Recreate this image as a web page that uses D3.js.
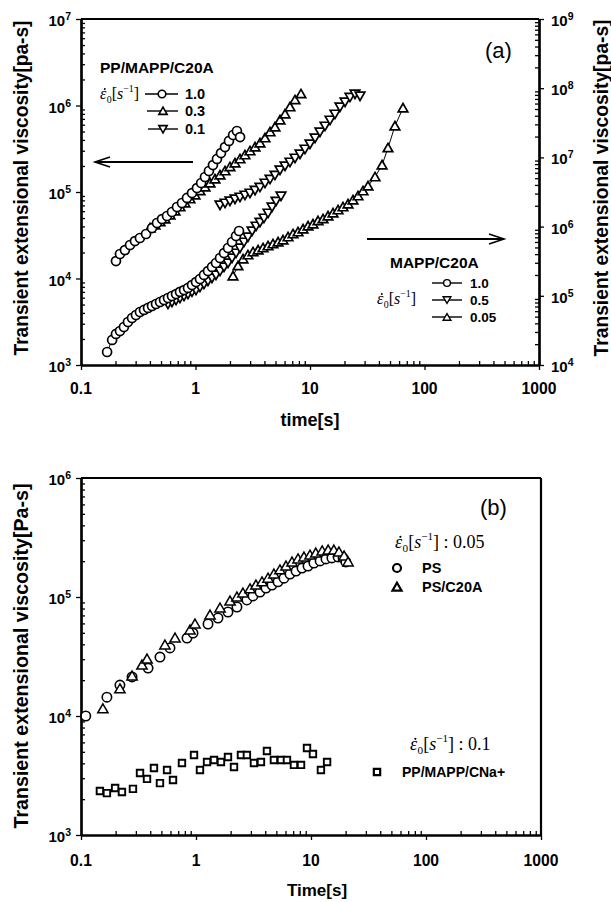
<!DOCTYPE html>
<html>
<head>
<meta charset="utf-8">
<script src="https://cdn.jsdelivr.net/npm/d3@7"></script>
<style>
  body { margin: 0; background: #fff; }
  svg { display: block; font-family: "Liberation Sans", Arial, sans-serif; }
</style>
</head>
<body>
<svg id="chart"></svg>
<script>
// tick values / labels
const timeTicks = [0.1, 1, 10, 100, 1000];
const timeLabels = ["0.1", "1", "10", "100", "1000"];
const expLeftA = [3, 4, 5, 6, 7];
const expRightA = [4, 5, 6, 7, 8, 9];
const expLeftB = [3, 4, 5, 6];

// (a) PP/MAPP/C20A, left axis  [time s, viscosity Pa-s]
const ppC20A_10 = [[0.202,1.59e4],[0.219,1.92e4],[0.242,2.13e4],[0.268,2.44e4],[0.296,2.71e4],[0.327,2.94e4],[0.370,3.27e4],[0.417,3.83e4],[0.461,4.38e4],[0.510,4.87e4],[0.564,5.28e4],[0.623,5.87e4],[0.689,6.71e4],[0.762,7.46e4],[0.843,8.53e4],[0.932,9.73e4],[1.03,1.11e5],[1.12,1.27e5],[1.21,1.49e5],[1.31,1.75e5],[1.42,2.05e5],[1.54,2.41e5],[1.67,2.82e5],[1.81,3.31e5],[1.96,3.89e5],[2.13,4.56e5],[2.30,5.07e5],[2.45,4.32e5]];
const ppC20A_03 = [[0.401,3.83e4],[0.443,4.15e4],[0.490,4.50e4],[0.541,4.87e4],[0.599,5.42e4],[0.662,6.03e4],[0.732,6.71e4],[0.809,7.46e4],[0.895,8.30e4],[0.990,9.23e4],[1.094,1.03e5],[1.211,1.14e5],[1.339,1.27e5],[1.479,1.41e5],[1.637,1.57e5],[1.811,1.75e5],[2.000,1.95e5],[2.213,2.16e5],[2.447,2.41e5],[2.704,2.68e5],[2.992,2.98e5],[3.311,3.31e5],[3.656,3.68e5],[4.046,4.21e5],[4.477,4.94e5],[4.943,5.64e5],[5.470,6.79e5],[6.053,7.97e5],[6.683,9.61e5],[7.396,1.16e6],[8.34,1.36e6]];
const ppC20A_01 = [[1.637,7.08e4],[1.811,7.46e4],[2.000,7.87e4],[2.213,8.30e4],[2.447,8.75e4],[2.704,9.23e4],[2.992,9.73e4],[3.311,1.05e5],[3.656,1.14e5],[4.046,1.27e5],[4.477,1.41e5],[4.943,1.57e5],[5.470,1.80e5],[6.053,2.00e5],[6.683,2.22e5],[7.396,2.47e5],[8.18,2.75e5],[9.04,3.14e5],[10.0,3.59e5],[11.07,4.21e5],[12.22,4.94e5],[13.52,5.79e5],[14.96,6.79e5],[16.52,7.97e5],[18.28,9.61e5],[20.23,1.10e6],[22.34,1.25e6],[24.72,1.36e6],[27.35,1.29e6]];

// (a) MAPP/C20A, right axis
const mappC20A_10 = [[0.169,1.54e4],[0.187,2.30e4],[0.202,2.81e4],[0.219,3.10e4],[0.237,3.54e4],[0.257,4.18e4],[0.279,4.78e4],[0.302,5.28e4],[0.327,5.83e4],[0.355,6.24e4],[0.385,6.67e4],[0.417,7.12e4],[0.452,7.61e4],[0.490,8.13e4],[0.531,8.69e4],[0.575,9.29e4],[0.623,9.93e4],[0.676,1.06e5],[0.732,1.14e5],[0.794,1.21e5],[0.860,1.30e5],[0.932,1.43e5],[1.010,1.58e5],[1.094,1.75e5],[1.186,2.00e5],[1.285,2.28e5],[1.393,2.61e5],[1.510,2.98e5],[1.637,3.52e5],[1.774,4.15e5],[1.923,4.91e5],[2.084,5.99e5],[2.259,7.31e5],[2.399,8.64e5]];
const mappC20A_05 = [[0.575,7.61e4],[0.623,8.13e4],[0.676,8.69e4],[0.732,9.29e4],[0.794,9.93e4],[0.860,1.06e5],[0.932,1.14e5],[1.010,1.21e5],[1.094,1.34e5],[1.186,1.48e5],[1.285,1.64e5],[1.393,1.81e5],[1.510,2.00e5],[1.637,2.28e5],[1.774,2.61e5],[1.923,2.98e5],[2.084,3.52e5],[2.259,4.15e5],[2.447,4.91e5],[2.65,5.99e5],[2.87,7.08e5],[3.12,8.64e5],[3.38,1.02e6],[3.656,1.16e6],[3.96,1.33e6],[4.30,1.57e6],[4.66,1.92e6],[5.05,2.34e6],[5.58,2.77e6]];
const mappC20A_005 = [[2.126,1.93e5],[2.35,2.70e5],[2.60,3.40e5],[2.87,3.89e5],[3.18,4.30e5],[3.52,4.59e5],[3.89,4.91e5],[4.30,5.25e5],[4.75,5.61e5],[5.26,5.99e5],[5.81,6.40e5],[6.43,7.08e5],[7.11,7.82e5],[7.86,8.36e5],[8.69,9.23e5],[9.61,1.02e6],[10.62,1.09e6],[11.75,1.21e6],[13.00,1.29e6],[14.36,1.42e6],[15.88,1.57e6],[17.57,1.74e6],[19.41,1.92e6],[21.48,2.12e6],[23.75,2.42e6],[26.25,2.77e6],[29.04,3.27e6],[32.1,3.86e6],[37.0,5.21e6],[42.6,7.76e6],[48.0,1.37e7],[55.2,2.84e7],[64.9,5.17e7]];

// (b)
const ps = [[0.110,1.0e4],[0.168,1.44e4],[0.218,1.82e4],[0.278,2.13e4],[0.383,2.53e4],[0.486,3.13e4],[0.594,3.73e4],[0.835,4.52e4],[0.942,4.98e4],[1.272,5.93e4],[1.553,6.66e4],[1.897,7.48e4],[2.27,8.24e4],[2.77,9.44e4],[3.13,1.02e5],[3.60,1.10e5],[4.06,1.19e5],[4.58,1.26e5],[5.16,1.34e5],[5.82,1.44e5],[6.56,1.56e5],[7.41,1.65e5],[8.35,1.75e5],[9.42,1.82e5],[10.6,1.93e5],[12.0,2.01e5],[13.5,2.09e5],[15.2,2.13e5],[17.2,2.17e5],[19.0,2.13e5],[20.1,1.97e5]];
const psC20A = [[0.155,1.15e4],[0.218,1.69e4],[0.278,2.17e4],[0.339,2.68e4],[0.375,3.01e4],[0.537,3.95e4],[0.657,4.52e4],[0.887,5.28e4],[0.980,5.93e4],[1.324,7.06e4],[1.618,8.09e4],[1.976,9.25e4],[2.27,1.0e5],[2.56,1.08e5],[2.95,1.17e5],[3.32,1.26e5],[3.75,1.34e5],[4.23,1.44e5],[4.76,1.56e5],[5.37,1.69e5],[6.06,1.82e5],[6.84,1.97e5],[7.71,2.09e5],[8.69,2.17e5],[9.80,2.25e5],[11.0,2.34e5],[12.5,2.44e5],[14.1,2.48e5],[15.8,2.48e5],[17.5,2.39e5],[19.4,2.21e5],[21.0,1.97e5]];
const ppMappCNa = [[0.146,2.34e3],[0.168,2.25e3],[0.198,2.48e3],[0.227,2.30e3],[0.283,2.44e3],[0.326,3.32e3],[0.375,2.96e3],[0.431,3.66e3],[0.486,2.73e3],[0.560,3.52e3],[0.631,2.90e3],[0.755,4.03e3],[0.961,4.70e3],[1.083,3.52e3],[1.247,4.11e3],[1.435,4.27e3],[1.648,4.11e3],[1.897,4.52e3],[2.14,3.73e3],[2.46,4.70e3],[2.77,4.70e3],[3.19,4.03e3],[3.67,4.11e3],[4.14,5.08e3],[4.76,4.27e3],[5.48,4.27e3],[6.18,4.27e3],[7.11,3.88e3],[8.19,3.88e3],[9.23,5.38e3],[10.4,4.79e3],[12.2,3.52e3],[13.8,4.11e3]];

const svg = d3.select("#chart").attr("width", 611).attr("height", 902);

const xA = d3.scaleLog().domain([0.1, 1000]).range([81, 539]);
const yA = d3.scaleLog().domain([1e3, 1e7]).range([365, 19]);
const yA2 = d3.scaleLog().domain([1e4, 1e9]).range([365, 19]);
const xB = d3.scaleLog().domain([0.1, 1000]).range([81, 541]);
const yB = d3.scaleLog().domain([1e3, 1e6]).range([835, 478]);

const isMajor = (v) => Math.abs(Math.log10(v) - Math.round(Math.log10(v))) < 1e-6;
const minorOf = (s) => s.ticks().filter((v) => !isMajor(v));

const styleAxis = (g, w) => {
  g.select(".domain").attr("stroke", "#000").attr("stroke-width", w);
  g.selectAll(".tick line").attr("stroke", "#000").attr("stroke-width", 1.3);
};

const addAxis = (axisFn, scale, pos, vertical) => {
  const tr = vertical ? `translate(${pos},0)` : `translate(0,${pos})`;
  svg.append("g").attr("transform", tr)
    .call(axisFn(scale).tickValues(minorOf(scale)).tickSize(-4).tickSizeOuter(0).tickFormat(""))
    .call((g) => styleAxis(g, 2.2));
  svg.append("g").attr("transform", tr)
    .call(axisFn(scale).tickValues(scale.ticks().filter(isMajor)).tickSize(5).tickSizeOuter(0).tickFormat(""))
    .call((g) => styleAxis(g, 2.2));
};

const powerLabels = (exps, y, x, anchor) => {
  exps.forEach((e) => {
    const t = svg.append("text")
      .attr("x", x).attr("y", y(Math.pow(10, e)) + 7)
      .attr("text-anchor", anchor)
      .attr("font-weight", "bold").attr("font-size", 15);
    t.append("tspan").text("10");
    t.append("tspan").attr("dy", -6).attr("font-size", 10.5).text(e);
  });
};

const timeAxisLabels = (x, y) => {
  svg.selectAll(null).data(timeTicks).join("text")
    .attr("x", (d) => x(d)).attr("y", y)
    .attr("text-anchor", "middle")
    .attr("font-weight", "bold").attr("font-size", 15.7)
    .text((d, i) => timeLabels[i]);
};

const yTitle = (x, yc, len, text) => {
  svg.append("text")
    .attr("transform", `translate(${x},${yc}) rotate(-90)`)
    .attr("text-anchor", "middle")
    .attr("font-weight", "bold").attr("font-size", 20)
    .attr("textLength", len).attr("lengthAdjust", "spacingAndGlyphs")
    .text(text);
};

const frame = (x, y, rightLine) => {
  const [x0, x1] = x.range();
  const [yb, yt] = y.range();
  svg.append("line").attr("x1", x0).attr("x2", x1).attr("y1", yt).attr("y2", yt)
    .attr("stroke", "#000").attr("stroke-width", 1.8);
  if (rightLine) {
    svg.append("line").attr("x1", x1).attr("x2", x1).attr("y1", yt).attr("y2", yb)
      .attr("stroke", "#000").attr("stroke-width", 2.2);
  }
};

const symbolPath = (type, size) => d3.symbol().type(type).size(size)();

const addMarker = (g, cx, cy, m) => {
  if (m.kind === "circle") {
    g.append("circle").attr("cx", cx).attr("cy", cy).attr("r", m.r)
      .attr("fill", "#fff").attr("stroke", "#000").attr("stroke-width", m.sw);
  } else {
    const type = m.kind === "square" ? d3.symbolSquare : d3.symbolTriangle;
    const rot = m.kind === "down" ? 180 : 0;
    const dy = m.kind === "square" ? 0 : (m.kind === "down" ? -1 : 1);
    g.append("path").attr("d", symbolPath(type, m.size))
      .attr("transform", `translate(${cx},${cy + dy}) rotate(${rot})`)
      .attr("fill", "#fff").attr("stroke", "#000").attr("stroke-width", m.sw);
  }
};

const drawSeries = (data, x, y, marker, withLine) => {
  if (withLine) {
    svg.append("path").datum(data)
      .attr("fill", "none").attr("stroke", "#000").attr("stroke-width", 1)
      .attr("d", d3.line().x((d) => x(d[0])).y((d) => y(d[1])));
  }
  const g = svg.append("g");
  data.forEach((d) => addMarker(g, x(d[0]), y(d[1]), marker));
};

// rate symbol: dotted epsilon, subscript 0, [s^-1]
const epsLabel = (x, y, size, suffix) => {
  const serif = "'Liberation Serif', 'Times New Roman', serif";
  svg.append("text").attr("x", x).attr("y", y)
    .attr("font-family", serif).attr("font-size", size)
    .attr("font-style", "italic").text("\u03B5");
  svg.append("circle").attr("cx", x + size * 0.3).attr("cy", y - size * 0.62)
    .attr("r", size * 0.06).attr("fill", "#000");
  const t = svg.append("text").attr("x", x + size * 0.42).attr("y", y)
    .attr("font-family", serif).attr("font-size", size);
  t.append("tspan").attr("font-size", size * 0.62).attr("dy", size * 0.22).text("0");
  t.append("tspan").attr("dy", -size * 0.22).text("[");
  t.append("tspan").attr("font-style", "italic").text("s");
  t.append("tspan").attr("font-size", size * 0.62).attr("dy", -size * 0.42).text("\u22121");
  t.append("tspan").attr("dy", size * 0.42).text("]");
  if (suffix) t.append("tspan").text(suffix);
};

const boldText = (x, y, size, text, anchor = "start") =>
  svg.append("text").attr("x", x).attr("y", y).attr("text-anchor", anchor)
    .attr("font-weight", "bold").attr("font-size", size).text(text);

const arrow = (x1, x2, y, dir) => {
  svg.append("line").attr("x1", x1).attr("x2", x2).attr("y1", y).attr("y2", y)
    .attr("stroke", "#000").attr("stroke-width", 1.8);
  const tip = dir < 0 ? x1 : x2;
  svg.append("path")
    .attr("d", `M${tip - dir * 15},${y - 5}L${tip},${y}L${tip - dir * 15},${y + 5}`)
    .attr("fill", "none").attr("stroke", "#000").attr("stroke-width", 1.6);
};

const legendRow = (x1, x2, xm, y, marker, label, lx, size) => {
  svg.append("line").attr("x1", x1).attr("x2", x2).attr("y1", y).attr("y2", y)
    .attr("stroke", "#000").attr("stroke-width", 1.4);
  addMarker(svg.append("g"), xm, y, marker);
  boldText(lx, y + 5, size, label);
};

// markers
const mCircA = { kind: "circle", r: 4.5, sw: 1.7 };
const mUpA = { kind: "up", size: 40, sw: 1.7 };
const mDownA = { kind: "down", size: 40, sw: 1.7 };
const mCircB = { kind: "circle", r: 4.7, sw: 1.6 };
const mUpB = { kind: "up", size: 46, sw: 1.5 };
const mSqB = { kind: "square", size: 42, sw: 1.9 };

// ---------- panel (a) ----------
frame(xA, yA, false);
addAxis(d3.axisBottom, xA, 365, false);
addAxis(d3.axisLeft, yA, 81, true);
addAxis(d3.axisRight, yA2, 539, true);
timeAxisLabels(xA, 394);
powerLabels(expLeftA, yA, 71, "end");
powerLabels(expRightA, yA2, 551, "start");
yTitle(28, 188, 335, "Transient extensional viscosity[pa-s]");
yTitle(608, 188, 337, "Transient extensional viscosity[pa-s]");
boldText(310, 426, 18, "time[s]", "middle");

drawSeries(mappC20A_005, xA, yA2, mUpA, true);
drawSeries(mappC20A_05, xA, yA2, mDownA, true);
drawSeries(mappC20A_10, xA, yA2, mCircA, true);
drawSeries(ppC20A_01, xA, yA, mDownA, true);
drawSeries(ppC20A_03, xA, yA, mUpA, true);
drawSeries(ppC20A_10, xA, yA, mCircA, true);

svg.append("text").attr("x", 485).attr("y", 58).attr("font-size", 22).text("(a)");
boldText(100, 73, 15.5, "PP/MAPP/C20A");
epsLabel(100, 99, 16);
legendRow(145, 178, 162, 94, { kind: "circle", r: 3.8, sw: 1.6 }, "1.0", 185, 14.5);
legendRow(147, 178, 163, 111, { kind: "up", size: 30, sw: 1.6 }, "0.3", 185, 14.5);
legendRow(148, 178, 163, 129, { kind: "down", size: 30, sw: 1.6 }, "0.1", 185, 14.5);
arrow(95, 193, 162, -1);
arrow(367, 504, 239, 1);
boldText(390, 268, 15.5, "MAPP/C20A");
epsLabel(377, 304, 16);
legendRow(432, 462, 447, 283, { kind: "circle", r: 3.4, sw: 1.4 }, "1.0", 470, 13.5);
legendRow(432, 462, 447, 300, { kind: "down", size: 26, sw: 1.4 }, "0.5", 470, 13.5);
legendRow(432, 462, 447, 317, { kind: "up", size: 26, sw: 1.4 }, "0.05", 470, 13.5);

// ---------- panel (b) ----------
frame(xB, yB, true);
addAxis(d3.axisBottom, xB, 835, false);
addAxis(d3.axisLeft, yB, 81, true);
timeAxisLabels(xB, 866);
powerLabels(expLeftB, yB, 71, "end");
yTitle(28, 656, 345, "Transient extensional viscosity[Pa-s]");
boldText(317, 896, 17, "Time[s]", "middle");

drawSeries(ps, xB, yB, mCircB, false);
drawSeries(psC20A, xB, yB, mUpB, false);
drawSeries(ppMappCNa, xB, yB, mSqB, false);

svg.append("text").attr("x", 480).attr("y", 515).attr("font-size", 22).text("(b)");
epsLabel(395, 548, 18, " :  0.05");
addMarker(svg.append("g"), 397, 568, { kind: "circle", r: 4, sw: 2.2 });
boldText(422, 573, 14.5, "PS");
addMarker(svg.append("g"), 397, 587, { kind: "up", size: 36, sw: 2.2 });
boldText(422, 592, 14.5, "PS/C20A");
epsLabel(410, 750, 18, " :  0.1");
addMarker(svg.append("g"), 377, 772, { kind: "square", size: 40, sw: 2.2 });
boldText(402, 777, 14, "PP/MAPP/CNa+");
</script>
</body>
</html>
